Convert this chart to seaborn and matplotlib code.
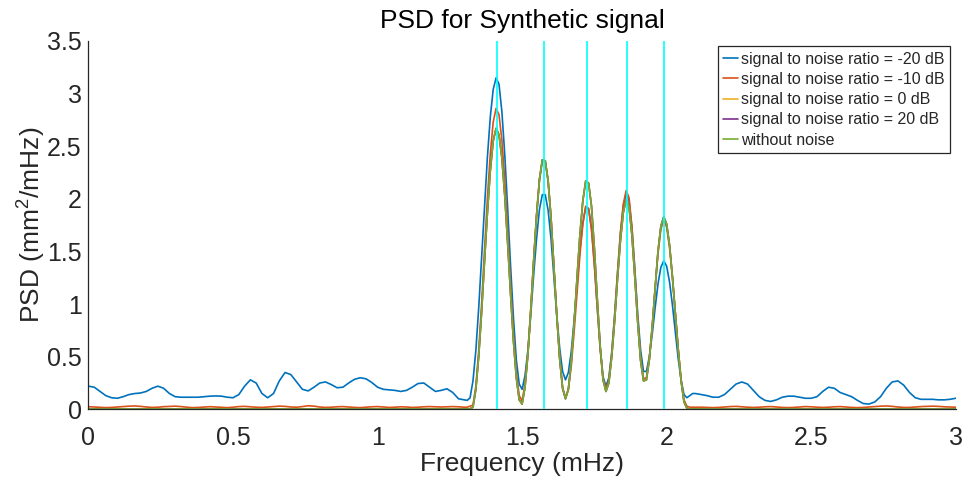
import numpy as np
import pandas as pd
import matplotlib
matplotlib.use("Agg")
import matplotlib.pyplot as plt
import seaborn as sns
from matplotlib.ticker import FormatStrFormatter

# frequency grid (mHz): coarse outside the peak band, fine inside it
freq = np.concatenate([np.linspace(0, 1.28, 65),
                       np.linspace(1.30, 2.10, 81),
                       np.linspace(2.12, 3.00, 45)])

# PSD values (mm^2/mHz)
psd_m20db = [
    # 0.00 - 1.28
    0.22, 0.21, 0.17, 0.13, 0.11, 0.105, 0.12, 0.14, 0.15, 0.155,
    0.17, 0.20, 0.22, 0.20, 0.15, 0.12, 0.115, 0.115, 0.115, 0.115,
    0.12, 0.125, 0.127, 0.125, 0.115, 0.11, 0.14, 0.22, 0.28, 0.25,
    0.15, 0.11, 0.15, 0.27, 0.35, 0.33, 0.26, 0.19, 0.175, 0.21,
    0.25, 0.26, 0.235, 0.205, 0.21, 0.25, 0.285, 0.30, 0.29, 0.255,
    0.21, 0.19, 0.185, 0.18, 0.17, 0.18, 0.21, 0.245, 0.25, 0.21,
    0.17, 0.18, 0.195, 0.16, 0.10,
    # 1.30 - 2.10
    0.09, 0.085, 0.11, 0.27, 0.56, 0.97, 1.45, 1.94, 2.40, 2.78,
    3.04, 3.15, 3.09, 2.83, 2.42, 1.91, 1.37, 0.87, 0.47, 0.24,
    0.19, 0.32, 0.56, 0.90, 1.28, 1.62, 1.90, 2.04, 2.04, 1.89,
    1.62, 1.26, 0.89, 0.58, 0.36, 0.28, 0.35, 0.55, 0.85, 1.19,
    1.52, 1.77, 1.92, 1.91, 1.72, 1.38, 0.97, 0.59, 0.31, 0.22,
    0.30, 0.54, 0.89, 1.29, 1.66, 1.93, 2.05, 1.98, 1.72, 1.33,
    0.90, 0.56, 0.36, 0.36, 0.50, 0.71, 0.96, 1.19, 1.35, 1.41,
    1.36, 1.21, 0.99, 0.73, 0.48, 0.28, 0.14, 0.11, 0.13, 0.15,
    0.15,
    # 2.12 - 3.00
    0.14, 0.13, 0.115, 0.115, 0.14, 0.19, 0.24, 0.26, 0.24, 0.18,
    0.12, 0.085, 0.075, 0.09, 0.115, 0.125, 0.125, 0.115, 0.105, 0.105,
    0.12, 0.17, 0.21, 0.20, 0.16, 0.14, 0.12, 0.085, 0.055, 0.05,
    0.07, 0.12, 0.20, 0.26, 0.27, 0.23, 0.16, 0.11, 0.095, 0.095,
    0.095, 0.09, 0.09, 0.095, 0.105,
]

psd_m10db = [
    0.025, 0.022, 0.018, 0.016, 0.018, 0.022, 0.026, 0.030, 0.032, 0.028,
    0.022, 0.018, 0.020, 0.025, 0.028, 0.030, 0.026, 0.020, 0.016, 0.018,
    0.022, 0.025, 0.022, 0.018, 0.016, 0.020, 0.026, 0.028, 0.024, 0.020,
    0.018, 0.022, 0.026, 0.030, 0.028, 0.022, 0.020, 0.026, 0.034, 0.030,
    0.022, 0.018, 0.020, 0.024, 0.026, 0.022, 0.018, 0.016, 0.020, 0.024,
    0.026, 0.022, 0.018, 0.020, 0.024, 0.022, 0.018, 0.020, 0.024, 0.026,
    0.024, 0.022, 0.024, 0.026, 0.024,
    0.02, 0.02, 0.03, 0.04, 0.22, 0.56, 1.01, 1.52, 2.01, 2.43,
    2.73, 2.86, 2.80, 2.56, 2.18, 1.70, 1.19, 0.72, 0.35, 0.13,
    0.08, 0.24, 0.54, 0.96, 1.42, 1.85, 2.19, 2.37, 2.36, 2.17,
    1.82, 1.36, 0.89, 0.48, 0.21, 0.11, 0.19, 0.41, 0.74, 1.11,
    1.47, 1.76, 1.93, 1.90, 1.71, 1.37, 0.96, 0.57, 0.29, 0.19,
    0.28, 0.53, 0.89, 1.30, 1.68, 1.95, 2.08, 2.01, 1.73, 1.31,
    0.86, 0.49, 0.29, 0.30, 0.48, 0.78, 1.14, 1.48, 1.71, 1.80,
    1.73, 1.54, 1.25, 0.91, 0.57, 0.28, 0.09, 0.03, 0.02, 0.02,
    0.02,
    0.020, 0.018, 0.016, 0.018, 0.022, 0.026, 0.028, 0.024, 0.020, 0.018,
    0.020, 0.024, 0.026, 0.022, 0.018, 0.016, 0.018, 0.022, 0.026, 0.024,
    0.020, 0.018, 0.020, 0.024, 0.026, 0.022, 0.018, 0.016, 0.018, 0.022,
    0.026, 0.030, 0.032, 0.028, 0.022, 0.018, 0.018, 0.022, 0.026, 0.028,
    0.030, 0.028, 0.024, 0.022, 0.020,
]

psd_clean = [
    0.004, 0.003, 0.002, 0.002, 0.003, 0.004, 0.004, 0.003, 0.002, 0.002,
    0.003, 0.004, 0.004, 0.003, 0.002, 0.002, 0.003, 0.004, 0.003, 0.002,
    0.002, 0.003, 0.004, 0.004, 0.003, 0.002, 0.002, 0.003, 0.004, 0.003,
    0.002, 0.002, 0.003, 0.004, 0.004, 0.003, 0.002, 0.002, 0.003, 0.004,
    0.004, 0.003, 0.002, 0.002, 0.003, 0.004, 0.003, 0.002, 0.002, 0.003,
    0.004, 0.004, 0.003, 0.002, 0.002, 0.003, 0.004, 0.003, 0.002, 0.002,
    0.003, 0.004, 0.003, 0.002, 0.003,
    0.003, 0.003, 0.005, 0.02, 0.19, 0.51, 0.93, 1.41, 1.87, 2.27,
    2.55, 2.67, 2.61, 2.39, 2.03, 1.58, 1.10, 0.65, 0.30, 0.09,
    0.05, 0.21, 0.52, 0.94, 1.41, 1.84, 2.18, 2.37, 2.36, 2.17,
    1.82, 1.36, 0.89, 0.48, 0.20, 0.10, 0.19, 0.45, 0.82, 1.25,
    1.66, 1.98, 2.17, 2.15, 1.93, 1.53, 1.05, 0.60, 0.28, 0.17,
    0.25, 0.50, 0.84, 1.24, 1.60, 1.87, 1.99, 1.92, 1.65, 1.25,
    0.82, 0.46, 0.27, 0.28, 0.47, 0.78, 1.15, 1.50, 1.74, 1.83,
    1.76, 1.56, 1.26, 0.92, 0.57, 0.27, 0.07, 0.01, 0.004, 0.003,
    0.003,
    0.003, 0.004, 0.003, 0.002, 0.002, 0.003, 0.004, 0.004, 0.003, 0.002,
    0.002, 0.003, 0.004, 0.003, 0.002, 0.002, 0.003, 0.004, 0.004, 0.003,
    0.002, 0.002, 0.003, 0.004, 0.003, 0.002, 0.002, 0.003, 0.004, 0.004,
    0.003, 0.002, 0.003, 0.004, 0.003, 0.002, 0.002, 0.003, 0.004, 0.003,
    0.002, 0.002, 0.003, 0.004, 0.003,
]

# 0 dB and 20 dB traces sit under the noise-free one at this scale
psd_0db = list(psd_clean)
psd_20db = list(psd_clean)

labels = ["signal to noise ratio = -20 dB",
          "signal to noise ratio = -10 dB",
          "signal to noise ratio = 0 dB",
          "signal to noise ratio = 20 dB",
          "without noise"]
series = [psd_m20db, psd_m10db, psd_0db, psd_20db, psd_clean]
colors = ["#0072BD", "#D95319", "#EDB120", "#7E2F8E", "#77AC30"]

# true component frequencies (cyan markers)
tone_freqs = [1.412, 1.576, 1.725, 1.862, 1.990]

df = pd.concat([pd.DataFrame({"freq": freq, "psd": vals, "series": lab})
                for lab, vals in zip(labels, series)], ignore_index=True)

sns.set_style("white")
plt.rcParams["font.family"] = ["Liberation Sans", "DejaVu Sans"]
plt.rcParams["mathtext.fontset"] = "custom"
plt.rcParams["mathtext.rm"] = "Liberation Sans"
plt.rcParams["mathtext.default"] = "regular"

fig = plt.figure(figsize=(9.65, 4.84), dpi=100)
ax = fig.add_axes([0.0917, 0.1543, 0.8987, 0.761])

sns.lineplot(data=df, x="freq", y="psd", hue="series", hue_order=labels,
             palette=dict(zip(labels, colors)), estimator=None, sort=False,
             linewidth=1.2, ax=ax)

for f in tone_freqs:
    ax.axvline(f, color="#00FFFF", linewidth=1.2, zorder=3)

ax.set_xlim(0, 3)
ax.set_ylim(0, 3.5)
ax.set_xticks(np.arange(0, 3.01, 0.5))
ax.set_yticks(np.arange(0, 3.51, 0.5))
ax.xaxis.set_major_formatter(FormatStrFormatter("%g"))
ax.yaxis.set_major_formatter(FormatStrFormatter("%g"))

dark = "#262626"
for side in ["top", "right"]:
    ax.spines[side].set_visible(False)
for side in ["left", "bottom"]:
    ax.spines[side].set_color(dark)
    ax.spines[side].set_linewidth(0.9)
ax.tick_params(axis="both", direction="in", length=6, width=0.9,
               color=dark, labelcolor=dark, labelsize=18)
ax.tick_params(axis="x", pad=12)
ax.tick_params(axis="y", pad=5)

ax.set_title("PSD for Synthetic signal", fontsize=19, pad=9, color="black")
ax.set_xlabel("Frequency (mHz)", fontsize=19, color=dark)
ax.set_ylabel("PSD (mm$^2$/mHz)", fontsize=19, color=dark)
ax.xaxis.set_label_coords(0.5, -0.117)
ax.yaxis.set_label_coords(-0.047, 0.5)

sns.move_legend(ax, "upper right", bbox_to_anchor=(950 / 965, 1 - 46 / 484),
                bbox_transform=fig.transFigure, title=None, fontsize=11.5,
                handlelength=0.95, handletextpad=0.15, borderpad=0.35,
                labelspacing=0.33, borderaxespad=0, frameon=True,
                fancybox=False, framealpha=1, edgecolor=dark)
ax.get_legend().get_frame().set_linewidth(0.9)

fig.savefig("out.png", dpi=100)
